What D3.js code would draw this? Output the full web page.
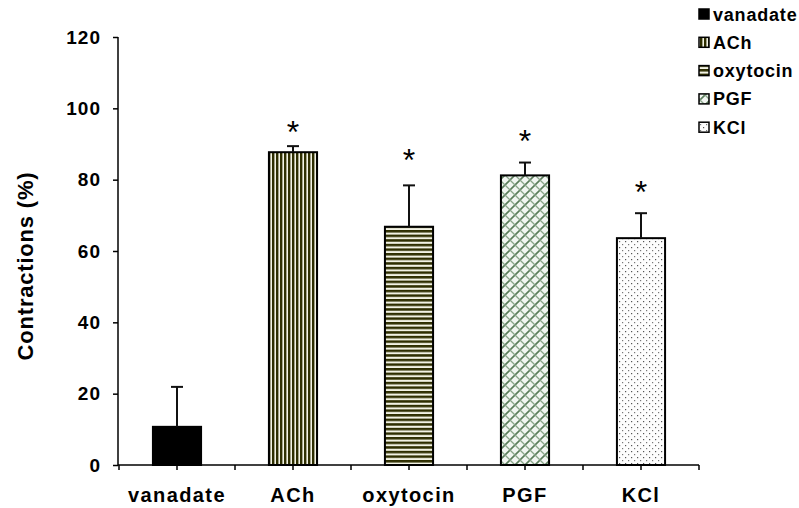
<!DOCTYPE html>
<html><head><meta charset="utf-8">
<script src="https://cdn.jsdelivr.net/npm/d3@7/dist/d3.min.js"></script>
<style>body{margin:0;background:#fff}svg{display:block}text{font-family:Arial,"Liberation Sans",sans-serif;font-weight:bold;fill:#000}</style>
</head><body><svg id="c" width="799" height="508"></svg>
<script>
const categories = ["vanadate","ACh","oxytocin","PGF","KCl"];
const values = [10.7, 87.7, 66.8, 81.2, 63.6];
const errors = [11.2, 1.7, 11.6, 3.6, 7.0];
const stars = ["", "*", "*", "*", "*"];
const starValues = [null, 94.5, 86.7, 92.0, 77.7];
const yTicks = [0,20,40,60,80,100,120];
const yTitle = "Contractions (%)";
const fills = ["solid","vstripe","hstripe","cross","dots"];

const svg = d3.select("#c");
const defs = svg.append("defs");
// patterns
let p = defs.append("pattern").attr("id","vstripe").attr("patternUnits","userSpaceOnUse").attr("width",4).attr("height",4);
p.append("rect").attr("width",4).attr("height",4).attr("fill","#f2f2e4");
p.append("rect").attr("x",0).attr("width",2.4).attr("height",4).attr("fill","#2e2e00");
p = defs.append("pattern").attr("id","hstripe").attr("patternUnits","userSpaceOnUse").attr("width",4).attr("height",4.6);
p.append("rect").attr("width",4).attr("height",4.6).attr("fill","#f2f2e4");
p.append("rect").attr("y",0).attr("width",4).attr("height",2.5).attr("fill","#2e2e00");
p = defs.append("pattern").attr("id","cross").attr("patternUnits","userSpaceOnUse").attr("width",10).attr("height",10);
p.append("rect").attr("width",10).attr("height",10).attr("fill","#f2f6f2");
p.append("path").attr("d","M0,10 L10,0 M-2,2 L2,-2 M8,12 L12,8").attr("stroke","#5a7d5a").attr("stroke-width",1.6);
p.append("path").attr("d","M0,0 L10,10 M-2,8 L2,12 M8,-2 L12,2").attr("stroke","#8aa58a").attr("stroke-width",1.3);
p = defs.append("pattern").attr("id","dots").attr("patternUnits","userSpaceOnUse").attr("width",6).attr("height",6);
p.append("rect").attr("width",6).attr("height",6).attr("fill","#fdfdfd");
p.append("rect").attr("x",1).attr("y",1).attr("width",1.2).attr("height",1.2).attr("fill","#555");
p.append("rect").attr("x",4).attr("y",4).attr("width",1.2).attr("height",1.2).attr("fill","#777");
const fillOf = f => f==="solid" ? "#000" : `url(#${f})`;

const x = d3.scaleBand().domain(categories).range([119,699]).paddingInner(0.585).paddingOuter(0.2925);
const y = d3.scaleLinear().domain([0,120]).range([465,37]);

// bars
svg.append("g").selectAll("rect").data(categories).join("rect")
  .attr("x",d=>x(d)).attr("width",x.bandwidth())
  .attr("y",(d,i)=>y(values[i])).attr("height",(d,i)=>y(0)-y(values[i]))
  .attr("fill",(d,i)=>fillOf(fills[i])).attr("stroke","#000").attr("stroke-width",2);

// error bars (upper)
const eg = svg.append("g").attr("stroke","#111").attr("stroke-width",2);
categories.forEach((c,i)=>{
  const cx = x(c)+x.bandwidth()/2;
  eg.append("line").attr("x1",cx).attr("x2",cx).attr("y1",y(values[i])).attr("y2",y(values[i]+errors[i]));
  eg.append("line").attr("x1",cx-6).attr("x2",cx+6).attr("y1",y(values[i]+errors[i])).attr("y2",y(values[i]+errors[i]));
});

// stars
svg.append("g").selectAll("text").data(categories).join("text")
  .attr("x",d=>x(d)+x.bandwidth()/2).attr("y",(d,i)=>starValues[i]==null?0:y(starValues[i])+15)
  .attr("text-anchor","middle").style("font-weight","normal").style("font-size","32px")
  .text((d,i)=>stars[i]);

// y axis
const ya = svg.append("g").attr("transform","translate(118,0)")
  .call(d3.axisLeft(y).tickValues(yTicks).tickSize(5).tickPadding(12));
ya.select(".domain").attr("stroke","#000").attr("stroke-width",1.5).attr("d","M0,37V465");
ya.selectAll(".tick line").attr("stroke","#000").attr("stroke-width",1.5);
ya.selectAll("text").style("font-size","19px").style("letter-spacing","1px").attr("font-family",null);

// x axis
const xa = svg.append("g").attr("transform","translate(0,465)")
  .call(d3.axisBottom(x).tickSize(5).tickSizeOuter(0).tickPadding(18));
xa.select(".domain").attr("stroke","#000").attr("stroke-width",1.5).attr("d","M118,0H699");
xa.selectAll(".tick line").attr("stroke","#000").attr("stroke-width",1.5);
xa.selectAll("text").style("font-size","20px").style("letter-spacing","1.4px").attr("font-family",null);
// boundary ticks
const bounds = categories.map(c=>x(c)-x.step()*x.paddingInner()/2).concat([x(categories[categories.length-1])+x.bandwidth()+x.step()*x.paddingInner()/2]);
xa.append("g").selectAll("line").data(bounds).join("line")
  .attr("x1",d=>d).attr("x2",d=>d).attr("y1",0).attr("y2",5).attr("stroke","#000").attr("stroke-width",1.5);

// y title
svg.append("text").attr("transform","translate(33,266) rotate(-90)").attr("text-anchor","middle")
  .style("font-size","22px").style("letter-spacing","0.8px").text(yTitle);

// legend
const lg = svg.append("g");
categories.forEach((c,i)=>{
  const ly = 14 + i*28.3;
  lg.append("rect").attr("x",699).attr("y",ly-5).attr("width",10).attr("height",10)
    .attr("fill",fillOf(fills[i])).attr("stroke","#000").attr("stroke-width",1.5);
  lg.append("text").attr("x",713).attr("y",ly+6.5).style("font-size","18px").style("letter-spacing","0.8px").text(c);
});
</script></body></html>
